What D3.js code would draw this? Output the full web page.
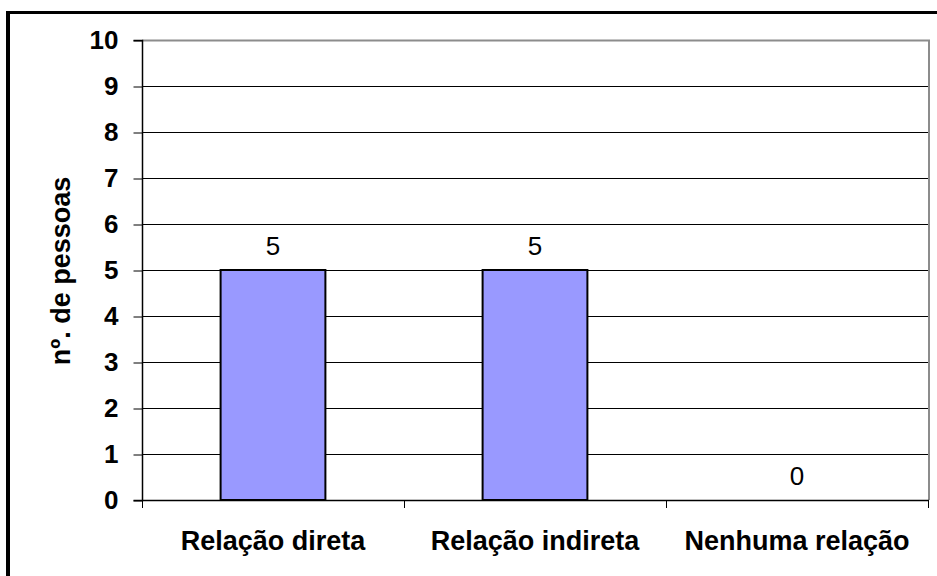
<!DOCTYPE html>
<html>
<head>
<meta charset="utf-8">
<script src="https://cdn.jsdelivr.net/npm/d3@7"></script>
<style>
  html, body { margin: 0; padding: 0; background: #fff; }
  svg { display: block; }
  text { font-family: Arial, "Liberation Sans", sans-serif; }
</style>
</head>
<body>
<svg id="chart" width="937" height="576"></svg>
<script>
// Number of people per type of relation
const categories = ["Relação direta", "Relação indireta", "Nenhuma relação"];
const values = [5, 5, 0];
const yTicks = [0, 1, 2, 3, 4, 5, 6, 7, 8, 9, 10];
const yTitle = "nº. de pessoas";

const svg = d3.select("#chart");
const W = 937, H = 576;
const plot = { left: 142, right: 928, top: 40, bottom: 500 };

const x = d3.scaleBand()
  .domain(categories)
  .range([plot.left, plot.right])
  .paddingInner(0.6)
  .paddingOuter(0.3);

const y = d3.scaleLinear()
  .domain([0, 10])
  .range([plot.bottom, plot.top]);

// outer frame (top and left edges visible)
svg.append("rect")
  .attr("x", 0).attr("y", 0).attr("width", W).attr("height", H)
  .attr("fill", "#fff");
svg.append("line")
  .attr("x1", 6).attr("x2", W).attr("y1", 12.5).attr("y2", 12.5)
  .attr("stroke", "#000").attr("stroke-width", 3);
svg.append("line")
  .attr("x1", 8).attr("x2", 8).attr("y1", 11).attr("y2", H)
  .attr("stroke", "#000").attr("stroke-width", 4);

// horizontal gridlines
svg.append("g")
  .selectAll("line")
  .data(yTicks)
  .join("line")
  .attr("x1", plot.left).attr("x2", plot.right)
  .attr("y1", d => y(d) + 0.5).attr("y2", d => y(d) + 0.5)
  .attr("stroke", "#000").attr("stroke-width", 1);

// plot area border, top and right
svg.append("path")
  .attr("d", `M${plot.left},${plot.top + 0.5}H${plot.right + 1}V${plot.bottom}`)
  .attr("fill", "none")
  .attr("stroke", "#8c8c8c")
  .attr("stroke-width", 2);

// bars
svg.append("g")
  .selectAll("rect")
  .data(values.map((v, i) => ({ cat: categories[i], v })).filter(d => d.v > 0))
  .join("rect")
  .attr("x", d => x(d.cat))
  .attr("y", d => y(d.v))
  .attr("width", x.bandwidth())
  .attr("height", d => y(0) - y(d.v))
  .attr("fill", "#9999ff")
  .attr("stroke", "#000")
  .attr("stroke-width", 2);

// value labels
svg.append("g")
  .selectAll("text")
  .data(values.map((v, i) => ({ cat: categories[i], v })))
  .join("text")
  .attr("x", d => x(d.cat) + x.bandwidth() / 2)
  .attr("y", d => y(d.v) - 15)
  .attr("text-anchor", "middle")
  .attr("font-size", 26)
  .attr("fill", "#000")
  .text(d => d.v);

// y axis
const yAxis = d3.axisLeft(y)
  .tickValues(yTicks)
  .tickSize(9)
  .tickPadding(15)
  .tickFormat(d3.format("d"));
const gy = svg.append("g")
  .attr("transform", `translate(${plot.left + 0.5},0.5)`)
  .call(yAxis);
gy.select(".domain").attr("stroke", "#000").attr("stroke-width", 1.5)
  .attr("d", `M-9,${plot.top}H0V${plot.bottom}H-9`);
gy.selectAll(".tick line").attr("stroke", "#000");
gy.selectAll(".tick text")
  .attr("font-size", 26)
  .attr("font-weight", "bold")
  .attr("fill", "#000")
  .style("font-family", "Arial, 'Liberation Sans', sans-serif");

// x axis line and category boundary ticks
const step = x.step();
const x0 = x(categories[0]) - x.paddingOuter() * step;
const boundaries = d3.range(categories.length + 1).map(i => x0 + i * step);
svg.append("line")
  .attr("x1", plot.left).attr("x2", plot.right + 1)
  .attr("y1", plot.bottom + 0.5).attr("y2", plot.bottom + 0.5)
  .attr("stroke", "#000").attr("stroke-width", 1.5);
svg.append("g")
  .selectAll("line")
  .data(boundaries)
  .join("line")
  .attr("x1", d => d + 0.5).attr("x2", d => d + 0.5)
  .attr("y1", plot.bottom).attr("y2", plot.bottom + 8)
  .attr("stroke", "#000").attr("stroke-width", 1);

// category labels
svg.append("g")
  .selectAll("text")
  .data(categories)
  .join("text")
  .attr("x", d => x(d) + x.bandwidth() / 2)
  .attr("y", 550)
  .attr("text-anchor", "middle")
  .attr("font-size", 27)
  .attr("font-weight", "bold")
  .attr("fill", "#000")
  .text(d => d);

// y axis title
svg.append("text")
  .attr("transform", `translate(70,${(plot.top + plot.bottom) / 2 + 1}) rotate(-90)`)
  .attr("text-anchor", "middle")
  .attr("font-size", 27)
  .attr("font-weight", "bold")
  .attr("fill", "#000")
  .text(yTitle);
</script>
</body>
</html>
